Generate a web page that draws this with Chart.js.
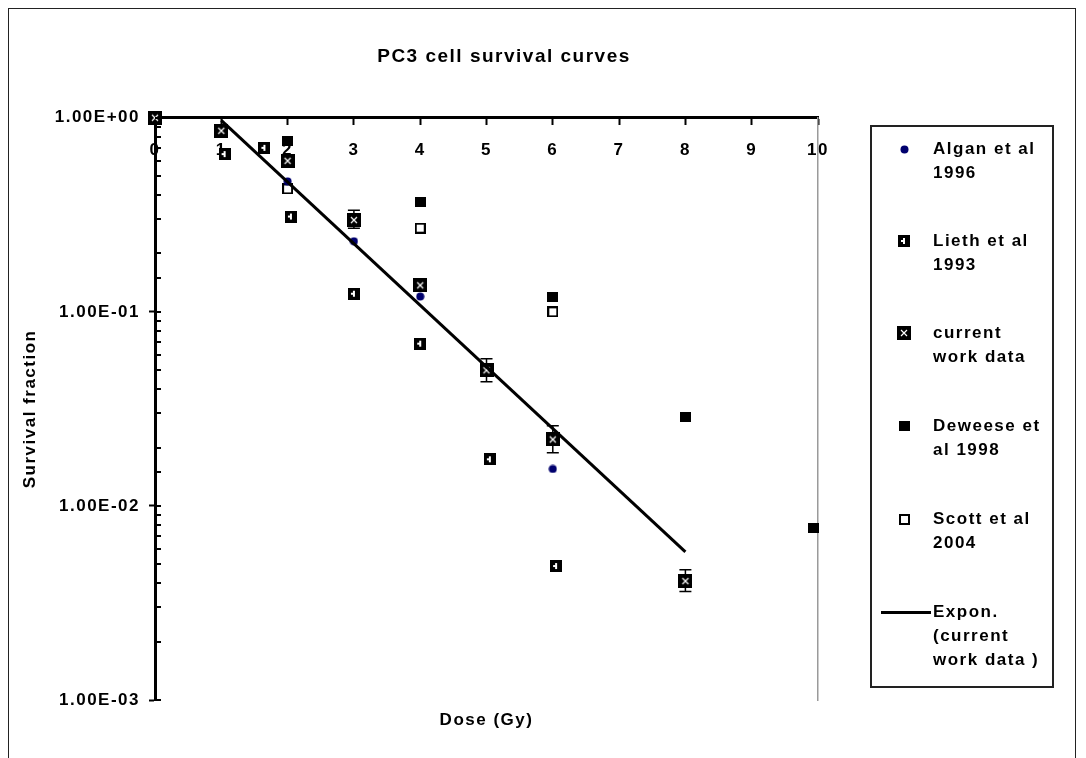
<!DOCTYPE html>
<html>
<head>
<meta charset="utf-8">
<script src="https://cdn.jsdelivr.net/npm/chart.js@4.4.1/dist/chart.umd.min.js"></script>
<style>
html,body{margin:0;padding:0;background:#fff;}
#wrap{position:relative;width:1086px;height:758px;overflow:hidden;background:#fff;}
#frame{position:absolute;left:8px;top:8px;width:1068px;height:800px;border:1.5px solid #222;box-sizing:border-box;}
#c{position:absolute;left:0;top:0;}
#legend{position:absolute;left:870px;top:125px;width:184px;height:563px;border:2px solid #222;box-sizing:border-box;
  font:bold 17px "Liberation Sans", Arial, sans-serif;letter-spacing:1.5px;color:#000;}
.item{position:absolute;left:0;width:100%;}
.mk{position:absolute;}
.tx{position:absolute;left:61px;line-height:24px;white-space:nowrap;}
.ln{position:absolute;height:3px;background:#000;}
</style>
</head>
<body>
<div id="wrap">
  <div id="frame"></div>
  <canvas id="c" width="998" height="758"></canvas>
  <div id="legend"></div>
</div>
<script>
// ---------- data ----------
const chartTitle = 'PC3 cell survival curves';
const xTitle = 'Dose (Gy)';
const yTitle = 'Survival fraction';

const alganDose = [2, 3, 4, 6];
const alganSF   = [0.47, 0.231, 0.12, 0.0155];

const liethDose = [1.05, 1.65, 2.05, 3, 4, 5.05, 6.05];
const liethSF   = [0.65, 0.70, 0.31, 0.124, 0.0686, 0.0174, 0.0049];

const currentDose    = [0, 1, 2, 3, 4, 5, 6, 8];
const currentSF      = [1.0, 0.857, 0.60, 0.297, 0.137, 0.050, 0.022, 0.0041];
const currentErrLow  = [1.0, 0.857, 0.60, 0.27, 0.137, 0.0437, 0.0188, 0.00362];
const currentErrHigh = [1.0, 0.857, 0.60, 0.334, 0.137, 0.0574, 0.0259, 0.00469];

const deweeseDose = [2, 4, 6, 8, 9.93];
const deweeseSF   = [0.76, 0.37, 0.119, 0.0287, 0.0077];

const scottDose = [2, 4, 6];
const scottSF   = [0.43, 0.27, 0.10];

const trendDose = [1, 8];
const trendSF   = [0.97, 0.0058];

const legendLabels = [
  ['Algan et al', '1996'],
  ['Lieth et al', '1993'],
  ['current', 'work data'],
  ['Deweese et', 'al 1998'],
  ['Scott et al', '2004'],
  ['Expon.', '(current', 'work data )']
];

const xMin = 0, xMax = 10, xStep = 1;
const yMin = 0.001, yMax = 1;

// ---------- markers ----------
function mk(w, h, draw){ const c=document.createElement('canvas'); c.width=w; c.height=h; draw(c.getContext('2d'), w, h); return c; }
const markerAlgan = mk(9, 9, g => { g.fillStyle='#00006e'; g.beginPath(); g.arc(4.5,4.5,4,0,Math.PI*2); g.fill(); });
const markerLieth = mk(12, 12, g => { g.fillStyle='#000'; g.fillRect(0,0,12,12); g.fillStyle='#fff'; g.fillRect(5,3,2,6); g.fillRect(3,5,3,2); });
const markerCurrent = mk(14, 14, g => { g.fillStyle='#000'; g.fillRect(0,0,14,14); g.strokeStyle='#fff'; g.lineWidth=1.2;
  g.beginPath(); g.moveTo(4,4); g.lineTo(10,10); g.moveTo(10,4); g.lineTo(4,10); g.stroke(); });
const markerDeweese = mk(11, 10, g => { g.fillStyle='#000'; g.fillRect(0,0,11,10); });
const markerScott = mk(11, 11, g => { g.fillStyle='#000'; g.fillRect(0,0,11,11); g.fillStyle='#fff'; g.fillRect(2,2,7,7); });

const pts = (xs, ys) => xs.map((x, i) => ({x, y: ys[i]}));
const FONT = '"Liberation Sans", Arial, sans-serif';

function isDecade(v){ const e = Math.round(Math.log10(v)); return Math.abs(v / Math.pow(10, e) - 1) < 1e-6; }
function sci(v){ const e = Math.round(Math.log10(v)); return '1.00E' + (e >= 0 ? '+' : '-') + String(Math.abs(e)).padStart(2, '0'); }

const spacing = {
  id: 'spacing',
  beforeLayout(chart){ chart.ctx.letterSpacing = '1.5px'; },
  beforeDraw(chart){ chart.ctx.letterSpacing = '1.5px'; }
};

const errorBars = {
  id: 'errorBars',
  beforeDatasetsDraw(chart){
    const {ctx, scales:{x, y}} = chart;
    ctx.save(); ctx.strokeStyle = '#000'; ctx.lineWidth = 1.5;
    currentDose.forEach((d, i) => {
      const lo = currentErrLow[i], hi = currentErrHigh[i];
      if (lo === hi) return;
      const px = x.getPixelForValue(d), pl = y.getPixelForValue(lo), ph = y.getPixelForValue(hi);
      ctx.beginPath();
      ctx.moveTo(px, pl); ctx.lineTo(px, ph);
      ctx.moveTo(px-6, pl); ctx.lineTo(px+6, pl);
      ctx.moveTo(px-6, ph); ctx.lineTo(px+6, ph);
      ctx.stroke();
    });
    ctx.restore();
  }
};

const innerTicks = {
  id: 'innerTicks',
  afterDraw(chart){
    const {ctx, scales:{y}} = chart;
    const left = chart.chartArea.left;
    ctx.save(); ctx.strokeStyle = '#000'; ctx.lineWidth = 2;
    y.ticks.forEach(t => {
      const py = Math.round(y.getPixelForValue(t.value));
      ctx.beginPath(); ctx.moveTo(left, py); ctx.lineTo(left + 6, py); ctx.stroke();
    });
    ctx.restore();
  }
};

const ctx = document.getElementById('c').getContext('2d');
const chart = new Chart(ctx, {
  type: 'scatter',
  data: {
    datasets: [
      { label: legendLabels[5].join(' '), data: pts(trendDose, trendSF), showLine: true, pointRadius: 0, borderColor: '#000', borderWidth: 3, legendMarker: 'line', clip: false },
      { label: legendLabels[0].join(' '), data: pts(alganDose, alganSF), pointStyle: markerAlgan, legendMarker: markerAlgan, clip: false },
      { label: legendLabels[1].join(' '), data: pts(liethDose, liethSF), pointStyle: markerLieth, legendMarker: markerLieth, clip: false },
      { label: legendLabels[2].join(' '), data: pts(currentDose, currentSF), pointStyle: markerCurrent, legendMarker: markerCurrent, clip: false },
      { label: legendLabels[3].join(' '), data: pts(deweeseDose, deweeseSF), pointStyle: markerDeweese, legendMarker: markerDeweese, clip: false },
      { label: legendLabels[4].join(' '), data: pts(scottDose, scottSF), pointStyle: markerScott, legendMarker: markerScott, clip: false }
    ]
  },
  options: {
    responsive: false,
    animation: false,
    events: [],
    layout: { padding: { left: 10, right: 0, top: 0, bottom: 0 } },
    plugins: {
      legend: { display: false },
      tooltip: { enabled: false },
      title: { display: true, text: chartTitle, color: '#000', font: { family: FONT, size: 19, weight: 'bold' }, padding: { top: 45, bottom: 50 } }
    },
    scales: {
      x: {
        type: 'linear', min: xMin, max: xMax, position: { y: 1 },
        ticks: { stepSize: xStep, color: '#000', font: { family: FONT, size: 17, weight: 'bold' }, padding: 16, maxRotation: 0 },
        grid: { drawOnChartArea: false, tickLength: 6, tickColor: '#000', tickWidth: 2 },
        border: { color: '#000', width: 3 }
      },
      x2: {
        type: 'linear', min: xMin, max: xMax, position: 'bottom',
        ticks: { display: false }, grid: { display: false, drawTicks: false }, border: { display: false },
        title: { display: true, text: xTitle, color: '#000', font: { family: FONT, size: 17, weight: 'bold' }, padding: { top: 0, bottom: 27 } },
        afterFit(s){ s.height = 58; }
      },
      y: {
        type: 'logarithmic', min: yMin, max: yMax, position: 'left',
        ticks: { autoSkip: false, color: '#000', font: { family: FONT, size: 17, weight: 'bold' }, padding: 9,
          callback: v => isDecade(v) ? sci(v) : '' },
        grid: { drawOnChartArea: false, tickLength: 6, tickWidth: 2, tickColor: c => isDecade(c.tick.value) ? '#000' : 'rgba(0,0,0,0)' },
        border: { color: '#000', width: 3 },
        title: { display: true, text: yTitle, color: '#000', font: { family: FONT, size: 17, weight: 'bold' }, padding: { top: 10, bottom: 0 } },
        afterFit(s){ s.width = 145; }
      },
      yR: {
        type: 'logarithmic', min: yMin, max: yMax, position: 'right',
        ticks: { display: false }, grid: { display: false, drawTicks: false },
        border: { color: '#9a9a9a', width: 1.5 },
        afterFit(s){ s.width = 180; }
      }
    }
  },
  plugins: [spacing, errorBars, innerTicks]
});

// ---------- HTML legend built from the chart's datasets ----------
const legendOrder = [1, 2, 3, 4, 5, 0];
const lineTops = [22, 114, 206, 299, 392, 485];
const legend = document.getElementById('legend');
legendOrder.forEach((di, k) => {
  const ds = chart.data.datasets[di];
  const item = document.createElement('div');
  item.className = 'item';
  item.style.top = (lineTops[k] - 12) + 'px';
  if (ds.legendMarker === 'line') {
    const l = document.createElement('div'); l.className = 'ln';
    l.style.left = '9px'; l.style.width = '50px'; l.style.top = '11px';
    item.appendChild(l);
  } else {
    const src = ds.legendMarker;
    const c = document.createElement('canvas'); c.width = src.width; c.height = src.height;
    c.getContext('2d').drawImage(src, 0, 0);
    c.className = 'mk';
    c.style.left = Math.round(32 - src.width / 2) + 'px';
    c.style.top = Math.round(12 - src.height / 2) + 'px';
    item.appendChild(c);
  }
  const tx = document.createElement('div'); tx.className = 'tx';
  tx.innerHTML = legendLabels[di === 0 ? 5 : di - 1].map(s => s.replace(/&/g,'&amp;').replace(/</g,'&lt;')).join('<br>');
  item.appendChild(tx);
  legend.appendChild(item);
});
</script>
</body>
</html>
